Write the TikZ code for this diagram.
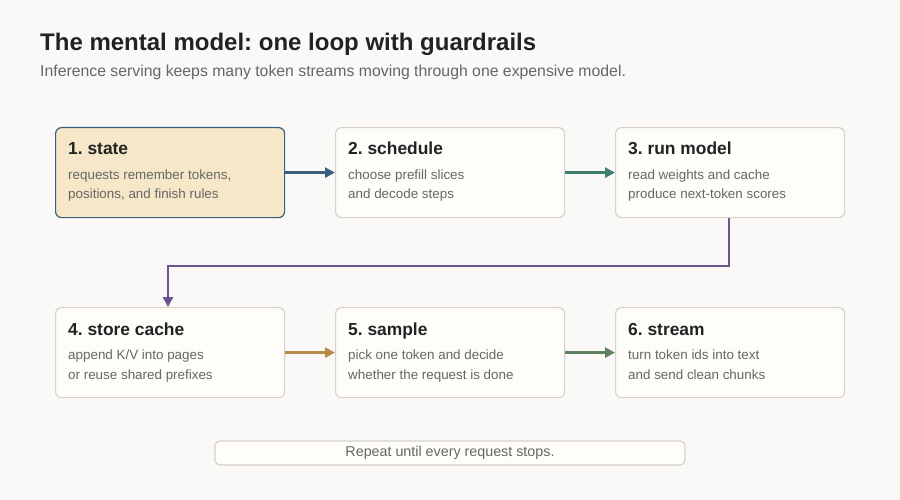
\documentclass[tikz,border=0pt]{standalone}
\usepackage{fontspec}
\setmainfont{Liberation Sans}
\usetikzlibrary{arrows.meta}
\definecolor{bg}{HTML}{FAF9F7}
\definecolor{boxf}{HTML}{FEFDF9}
\definecolor{boxd}{HTML}{D6D2C8}
\definecolor{hf}{HTML}{F6E7C8}
\definecolor{cblue}{HTML}{3A5F7F}
\definecolor{cteal}{HTML}{3F7F6F}
\definecolor{cpur}{HTML}{6A5590}
\definecolor{corg}{HTML}{B58A4A}
\definecolor{cgrn}{HTML}{5F7F5F}
\definecolor{tdark}{HTML}{222222}
\definecolor{tgray}{HTML}{666666}
\frenchspacing
\begin{document}
\begin{tikzpicture}[x=1pt,y=-1pt,
 box/.style={draw=boxd,fill=boxf,line width=1.2pt,rounded corners=6pt,minimum width=229pt,minimum height=90pt,anchor=north west},
 hl/.style={box,draw=cblue,fill=hf},
 ttl/.style={anchor=base west,font=\bfseries\fontsize{17.4}{20}\selectfont,text=tdark,inner sep=0},
 bdy/.style={anchor=base west,font=\fontsize{13.4}{16}\selectfont,text=tgray,inner sep=0},
 arr/.style={line width=2.6pt,-{Triangle[length=10pt,width=10pt]}}]
\fill[bg] (0,0) rectangle (900,500);
\node[anchor=base west,inner sep=0,font=\bfseries\fontsize{24}{28}\selectfont,text=tdark] (t) at (40,51) {The mental model: one loop with guardrails};
\node[anchor=base west,inner sep=0,font=\fontsize{15.8}{18}\selectfont,text=tgray] (s) at (40,77) {Inference serving keeps many token streams moving through one expensive model.};
\node[hl] (b1) at (55,127) {};
\node[box] (b2) at (335,127) {};
\node[box] (b3) at (615,127) {};
\node[box] (b4) at (55,307) {};
\node[box] (b5) at (335,307) {};
\node[box] (b6) at (615,307) {};
\foreach \n/\x/\y/\t/\ba/\bb in {1/68/155/1. state/{requests remember tokens,}/{positions, and finish rules},
 2/348/155/2. schedule/{choose prefill slices}/{and decode steps},
 3/628/155/3. run model/{read weights and cache}/{produce next-token scores},
 4/68/335/4. store cache/{append K/V into pages}/{or reuse shared prefixes},
 5/348/335/5. sample/{pick one token and decide}/{whether the request is done},
 6/628/335/6. stream/{turn token ids into text}/{and send clean chunks}}{
 \node[ttl] (t\n) at (\x,\y) {\t};
 \node[bdy] (d\n) at (\x,\y+24) {\ba};
 \node[bdy] (e\n) at (\x,\y+44) {\bb};
}
\draw[arr,cblue] (b1.east) -- (b2.west);
\draw[arr,cteal] (b2.east) -- (b3.west);
\coordinate (c1) at (729,266);
\coordinate (c2) at (168,266);
\draw[arr,cpur] (b3.south -| c1) -- (c1) -- (c2) -- (b4.north -| c2);
\draw[arr,corg] (b4.east) -- (b5.west);
\draw[arr,cgrn] (b5.east) -- (b6.west);
\node[draw=boxd,fill=boxf,line width=1.2pt,rounded corners=5pt,minimum width=470pt,minimum height=24pt,font=\fontsize{14.3}{16}\selectfont,text=tgray] (r) at (450,453) {Repeat until every request stops.};
\end{tikzpicture}
\end{document}
